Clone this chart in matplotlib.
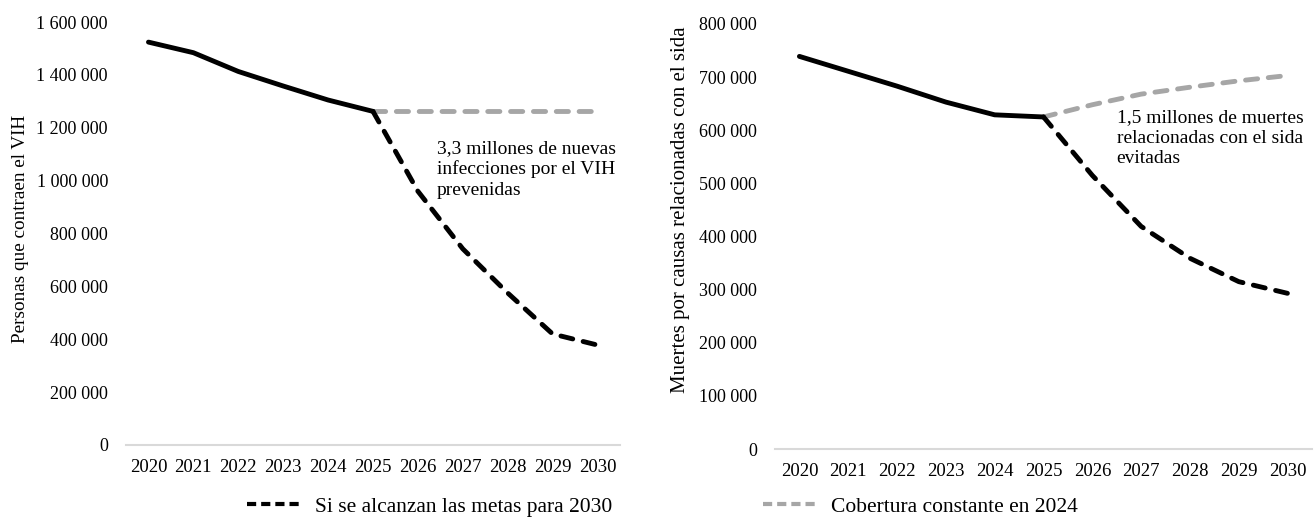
import matplotlib.pyplot as plt
from matplotlib.lines import Line2D
from matplotlib.ticker import FuncFormatter

plt.rcParams['font.family'] = ['Liberation Serif', 'DejaVu Serif']
plt.rcParams['font.size'] = 13

# datos
years_hist = [2020, 2021, 2022, 2023, 2024, 2025]
years_proj = [2025, 2026, 2027, 2028, 2029, 2030]
years_all = list(range(2020, 2031))

infec_hist = [1524000, 1484000, 1413000, 1358000, 1305000, 1262000]
infec_metas = [1262000, 960000, 742000, 575000, 420000, 378000]
infec_const = [1262000, 1262000, 1262000, 1262000, 1262000, 1262000]

muertes_hist = [739000, 711000, 683000, 653000, 629000, 625000]
muertes_metas = [625000, 515000, 419000, 359000, 315000, 293000]
muertes_const = [625000, 648000, 668000, 681000, 693000, 703000]

BLACK = '#000000'
GREY = '#A6A6A6'
AXIS = '#D9D9D9'


def thousands(v, pos):
    return '{:,.0f}'.format(v).replace(',', ' ')


def draw_panel(ax, hist, metas, const, ymax, ystep, note_x, note_y, note):
    ax.plot(years_proj, const, color=GREY, lw=3.5, dashes=(2.5, 2.2),
            dash_capstyle='round', solid_capstyle='round')
    ax.plot(years_proj, metas, color=BLACK, lw=3.5, dashes=(2.5, 2.2),
            dash_capstyle='round', solid_capstyle='round')
    ax.plot(years_hist, hist, color=BLACK, lw=3.5, solid_capstyle='round')
    ax.set_xlim(2019.5, 2030.5)
    ax.set_ylim(0, ymax)
    ax.set_xticks(years_all)
    ax.set_yticks(range(0, ymax + 1, ystep))
    ax.yaxis.set_major_formatter(FuncFormatter(thousands))
    ax.tick_params(axis='both', length=0, labelsize=13)
    ax.tick_params(axis='y', pad=13)
    ax.tick_params(axis='x', pad=10, labelsize=13.5)
    for s in ['top', 'right', 'left']:
        ax.spines[s].set_visible(False)
    ax.spines['bottom'].set_color(AXIS)
    ax.spines['bottom'].set_linewidth(1.5)
    ax.text(note_x, note_y, note, va='top', ha='left', fontsize=14,
            linespacing=1.27, clip_on=False)


fig = plt.figure(figsize=(13.14, 5.17), dpi=100)
ax1 = fig.add_axes([0.0959, 0.1393, 0.3759, 0.8181])
ax2 = fig.add_axes([0.5898, 0.1315, 0.4087, 0.8221])

draw_panel(ax1, infec_hist, infec_metas, infec_const, 1600000, 200000,
           2026.42, 1155000,
           '3,3 millones de nuevas\ninfecciones por el VIH\nprevenidas')
draw_panel(ax2, muertes_hist, muertes_metas, muertes_const, 800000, 100000,
           2026.5, 640000,
           '1,5 millones de muertes\nrelacionadas con el sida\nevitadas')

fig.text(21 / 1314, 1 - 229 / 517, 'Personas que contraen el VIH', rotation=90,
         ha='center', va='center', fontsize=13.8)
fig.text(680 / 1314, 1 - 210 / 517, 'Muertes por causas relacionadas con el sida',
         rotation=90, ha='center', va='center', fontsize=15)

h_metas = Line2D([], [], color=BLACK, lw=3, dashes=(2.2, 1.2))
h_const = Line2D([], [], color=GREY, lw=3, dashes=(2.2, 1.2))
fig.legend([h_metas], ['Si se alcanzan las metas para 2030'], loc='center left',
           bbox_to_anchor=(247 / 1314, 1 - 507 / 517), frameon=False,
           borderpad=0, borderaxespad=0, handlelength=2.55, handletextpad=0.6,
           fontsize=15.5)
fig.legend([h_const], ['Cobertura constante en 2024'], loc='center left',
           bbox_to_anchor=(763 / 1314, 1 - 507 / 517), frameon=False,
           borderpad=0, borderaxespad=0, handlelength=2.55, handletextpad=0.6,
           fontsize=15.5)

fig.savefig('out.png', dpi=100)
